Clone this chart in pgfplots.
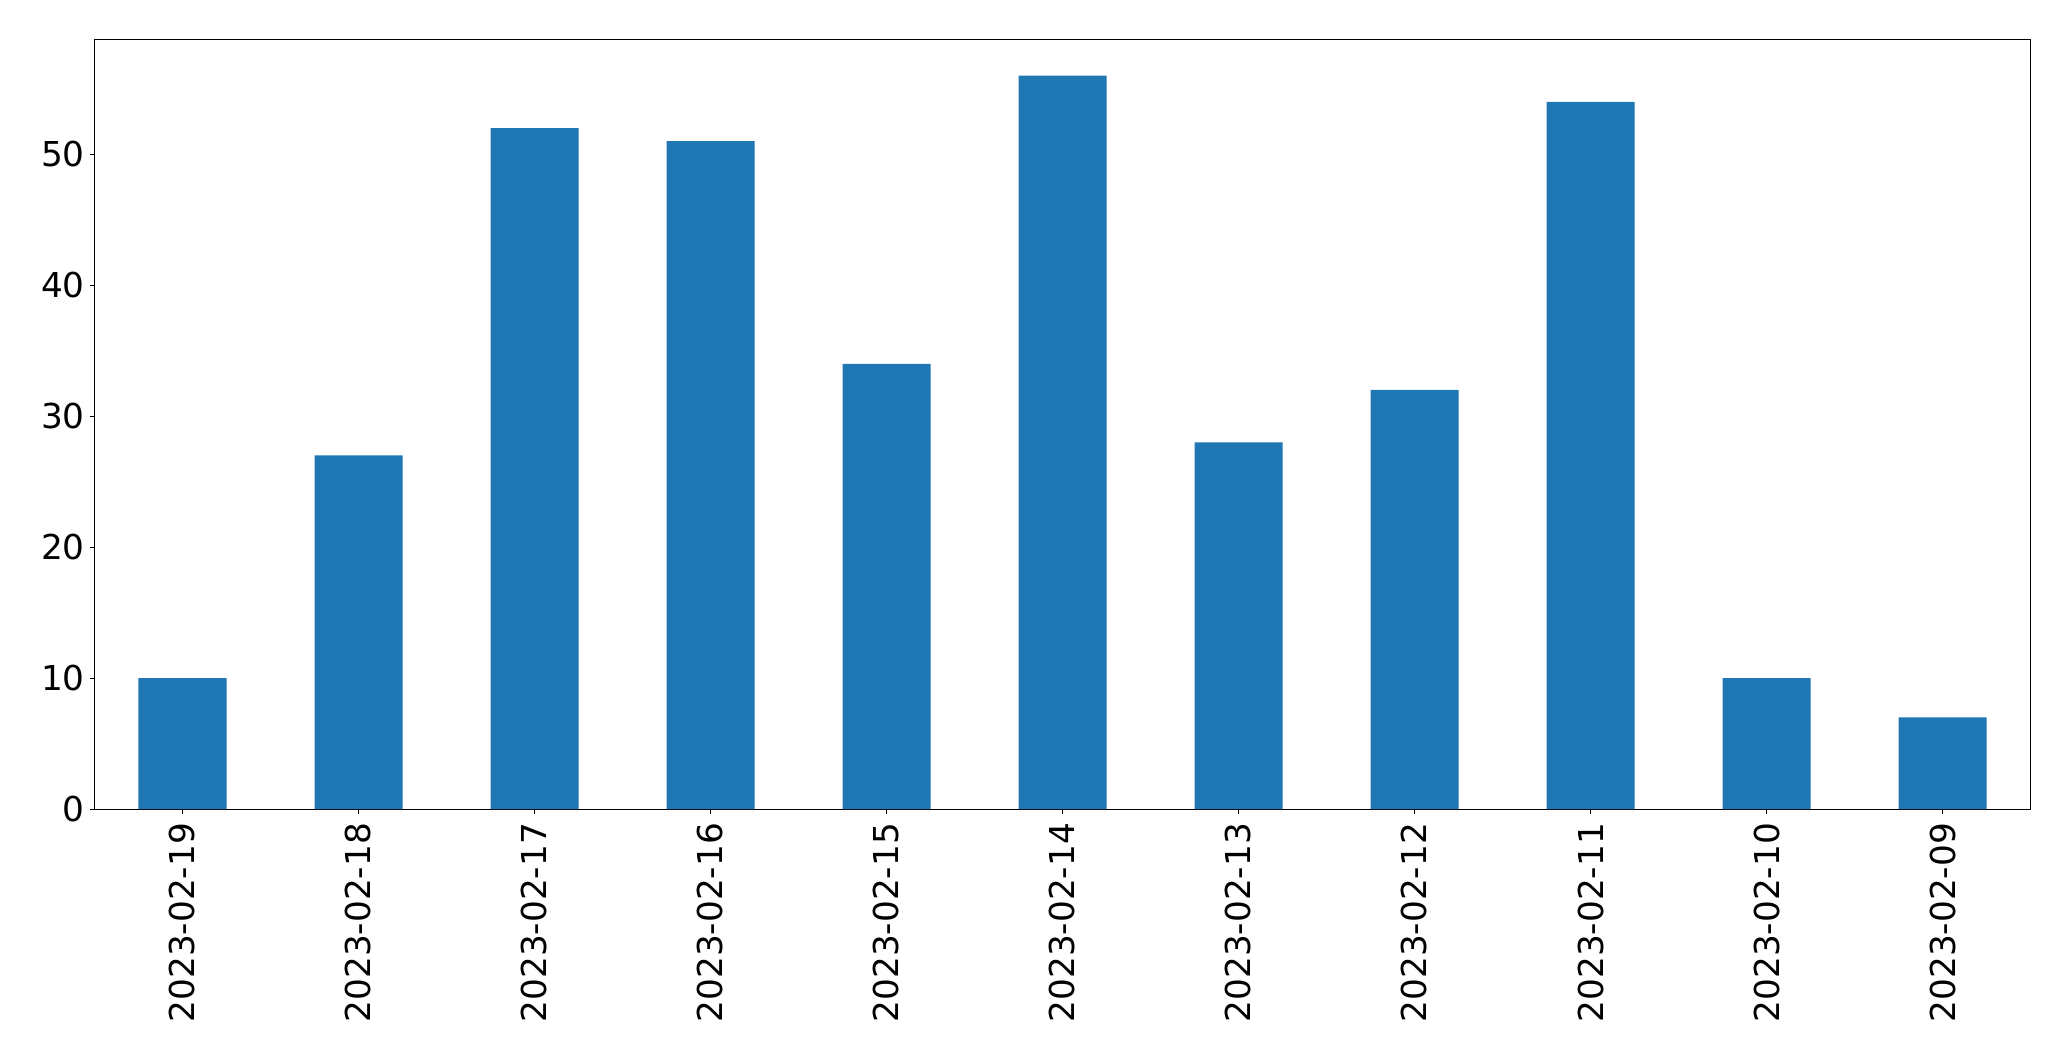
\documentclass[border=0pt]{standalone}
\usepackage{pgfplots}
\pgfplotsset{compat=1.18}
\usepackage{fontspec}
\setmainfont{DejaVu Sans}
\definecolor{mplblue}{HTML}{1F77B4}
\begin{document}
\begin{tikzpicture}[x=1pt,y=1pt]
\begin{axis}[
  at={(0,0)}, anchor=south west,
  scale only axis,
  width=1936*0.72pt, height=770*0.72pt,
  xmin=-0.5, xmax=10.5,
  ymin=0, ymax=58.8,
  xtick={0,1,2,3,4,5,6,7,8,9,10},
  xticklabels={2023-02-19,2023-02-18,2023-02-17,2023-02-16,2023-02-15,2023-02-14,2023-02-13,2023-02-12,2023-02-11,2023-02-10,2023-02-09},
  ytick={0,10,20,30,40,50},
  x tick label style={rotate=90, anchor=east},
  xticklabel shift=3pt,
  tick label style={font=\fontsize{24.7}{28}\selectfont},
  /pgf/number format/assume math mode=true,
  tick align=outside,
  major tick length=4.9*0.72pt,
  tick style={black, line width=0.8*0.72pt},
  xtick pos=bottom, ytick pos=left,
  axis line style={black, line width=0.8*0.72pt},
  ymajorgrids=false,
]
\addplot[ybar, bar width=0.5, fill=mplblue, draw=none] coordinates {
(0,10) (1,27) (2,52) (3,51) (4,34) (5,56) (6,28) (7,32) (8,54) (9,10) (10,7)
};
\end{axis}
\pgfresetboundingbox
\path (-94.5*0.72pt, -252*0.72pt) rectangle ++(2071*0.72pt, 1061*0.72pt);
\end{tikzpicture}
\end{document}
